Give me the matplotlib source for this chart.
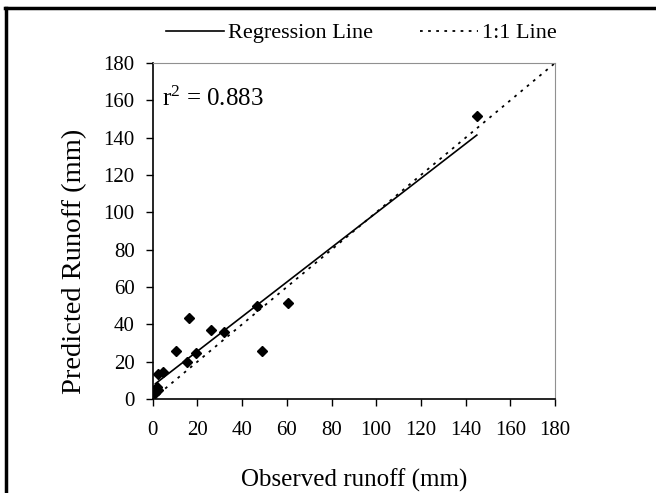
import numpy as np
import matplotlib
matplotlib.use("Agg")
from matplotlib import pyplot as plt
from matplotlib.lines import Line2D

plt.rcParams['font.family'] = ['Liberation Serif', 'DejaVu Serif']
plt.rcParams['mathtext.fontset'] = 'custom'
plt.rcParams['mathtext.rm'] = 'Liberation Serif'
plt.rcParams['mathtext.it'] = 'Liberation Serif'

# observed vs predicted runoff (mm)
observed = [145, 1.2, 1.8, 2.5, 2.5, 4.7, 10.4, 15.2, 16.4, 19.4, 26.1, 32.0, 46.5, 48.8, 60.7]
predicted = [151.6, 3.0, 6.6, 4.8, 13.4, 14.6, 25.7, 19.6, 43.2, 24.8, 37.0, 36.0, 49.8, 25.7, 51.6]

one_to_one = [0, 180]
ticks = list(range(0, 181, 20))
r2_text = r"r$^{\mathrm{2}}$ = 0.883"

fig = plt.figure(figsize=(6.56, 4.93), dpi=100)
ax = fig.add_axes([0.2328, 0.1907, 0.6133, 0.6815])

x = np.array(observed)
y = np.array(predicted)
slope, intercept = np.polyfit(x, y, 1)
xr = np.array([x.min(), x.max()])

ax.plot(xr, slope * xr + intercept, color='black', lw=1.2, label='Regression Line')
ax.plot(one_to_one, one_to_one, color='black', lw=1.3, ls=(0, (1.5, 3)), label='1:1 Line')
ax.plot(x, y, 'D', color='black', ms=5, ls='none')

ax.set_xlim(0, 180)
ax.set_ylim(0, 180)
ax.set_xticks(ticks)
ax.set_yticks(ticks)
ax.tick_params(direction='out', length=5, width=1, labelsize=15, top=False, right=False)
ax.tick_params(axis='x', pad=11)
ax.tick_params(axis='y', pad=8)

for s in ['top', 'right']:
    ax.spines[s].set_color('#909090')
for s in ['left', 'bottom']:
    ax.spines[s].set_color('black')
    ax.spines[s].set_linewidth(1.2)

ax.text(4, 161, r2_text, fontsize=18, va='center', ha='left')

ax.set_xlabel('Observed runoff (mm)', fontsize=18)
ax.xaxis.set_label_coords(0.5, -0.208)
ax.set_ylabel('Predicted Runoff (mm)', fontsize=20.5)
ax.yaxis.set_label_coords(-0.163, 0.41)

fig.legend(loc='center', bbox_to_anchor=(0.551, 0.933), ncol=2, frameon=False,
           fontsize=16, handlelength=2.6, columnspacing=2.1, handletextpad=0.2)

# chart border (top and left edges only visible)
fig.add_artist(Line2D([0.008, 1.0], [0.984, 0.984], color='black', lw=2.5, transform=fig.transFigure))
fig.add_artist(Line2D([0.009, 0.009], [0.0, 0.984], color='black', lw=2.5, transform=fig.transFigure))

fig.savefig('out.png', dpi=100)
